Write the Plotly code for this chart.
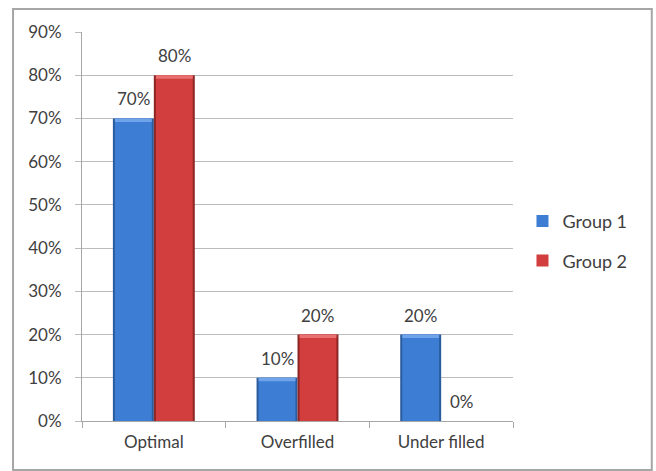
import plotly.graph_objects as go

# Share of cases per fill category, for each group
categories = ["Optimal", "Overfilled", "Under filled"]
group1 = [0.70, 0.10, 0.20]
group2 = [0.80, 0.20, 0.00]
series_names = ["Group 1", "Group 2"]
y_ticks = [0.0, 0.1, 0.2, 0.3, 0.4, 0.5, 0.6, 0.7, 0.8, 0.9]

FONT = "Lato"
TEXT = "#404040"
BAR_W = 0.285          # width of one bar, in category units
HILITE = 0.008         # height of the bevel highlight on bar tops

# (edge, body, highlight) colours for each series
palettes = [
    ("#2b5c9e", "#3d7ed4", "#6fa3ea"),
    ("#8e2626", "#d23e3e", "#e87070"),
]

x_idx = list(range(len(categories)))
fig = go.Figure()

for s, (name, vals) in enumerate(zip(series_names, [group1, group2])):
    edge, body, light = palettes[s]
    base_off = -BAR_W + s * BAR_W
    # dark outer edge of the bar
    fig.add_trace(go.Bar(
        x=x_idx, y=vals, width=BAR_W, offset=base_off,
        marker=dict(color=edge, line=dict(width=0)),
        legendgroup=name, showlegend=False, hoverinfo="skip",
    ))
    # main body, slightly inset
    inset = BAR_W * 0.05
    fig.add_trace(go.Bar(
        x=x_idx, y=vals, width=BAR_W - 2 * inset, offset=base_off + inset,
        marker=dict(color=body, line=dict(color=edge, width=0)),
        name=name, legendgroup=name, showlegend=True, hoverinfo="skip",
    ))
    # lighter bevel along the top of each bar
    fig.add_trace(go.Bar(
        x=x_idx, y=[min(HILITE, v) for v in vals],
        base=[v - min(HILITE, v) for v in vals],
        width=BAR_W - 2 * inset, offset=base_off + inset,
        marker=dict(color=light, line=dict(width=0)),
        legendgroup=name, showlegend=False, hoverinfo="skip",
    ))
    # value labels above the bars
    for i, v in enumerate(vals):
        fig.add_annotation(
            x=i + base_off + BAR_W / 2, y=v, text=f"{v:.0%}",
            showarrow=False, yanchor="bottom", yshift=7,
            font=dict(family=FONT, size=17, color=TEXT),
        )

# outer chart frame
fig.add_shape(
    type="rect", xref="paper", yref="paper",
    x0=-0.160, x1=1.322, y0=-0.126, y1=1.059,
    line=dict(color="#a6a6a6", width=2), fillcolor="rgba(0,0,0,0)",
    layer="below",
)

fig.update_layout(
    width=656, height=471,
    margin=dict(l=82, r=143, t=32, b=50),
    paper_bgcolor="white", plot_bgcolor="white",
    barmode="overlay",
    font=dict(family=FONT, size=17, color=TEXT),
    legend=dict(
        x=1.022, y=0.463, xanchor="left", yanchor="middle",
        font=dict(family=FONT, size=18, color=TEXT),
        tracegroupgap=13, itemwidth=30,
        bgcolor="rgba(0,0,0,0)",
    ),
    xaxis=dict(
        range=[-0.5, len(categories) - 0.5],
        tickvals=x_idx, ticktext=categories, ticks="",
        showgrid=False, zeroline=False,
        showline=True, linecolor="#a6a6a6", linewidth=1,
        minor=dict(
            tickvals=[i - 0.5 for i in range(len(categories) + 1)],
            ticks="outside", ticklen=6, tickcolor="#a6a6a6", showgrid=False,
        ),
        ticklabelstandoff=6,
        tickfont=dict(family=FONT, size=17, color=TEXT),
    ),
    yaxis=dict(
        range=[0, 0.9], tickvals=y_ticks, tickformat=".0%",
        showgrid=True, gridcolor="#bcbcbc", gridwidth=1,
        zeroline=False, showline=True, linecolor="#a6a6a6", linewidth=1,
        ticks="outside", ticklen=6, tickcolor="#bcbcbc",
        ticklabelstandoff=10,
        tickfont=dict(family=FONT, size=17, color=TEXT),
    ),
)

fig.write_html("out.html")
